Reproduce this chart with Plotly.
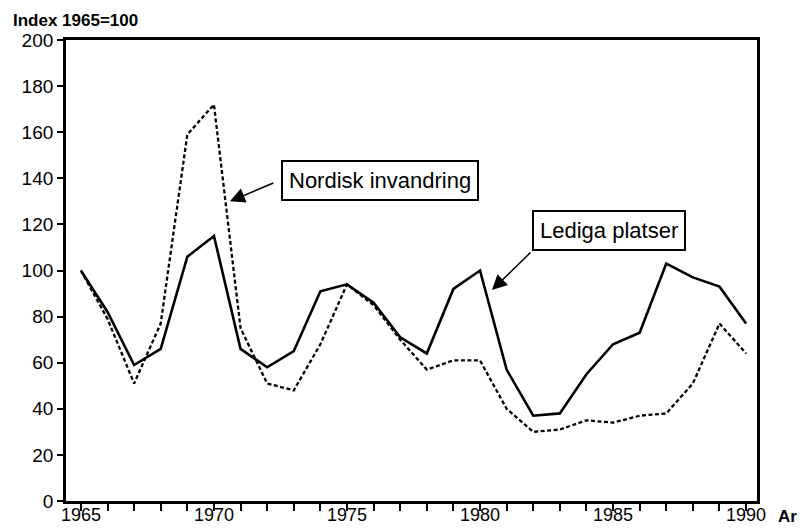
import plotly.graph_objects as go

years = list(range(1965, 1991))
lediga_platser = [100, 82, 59, 66, 106, 115, 66, 58, 65, 91, 94, 86, 71, 64, 92, 100,
                  57, 37, 38, 55, 68, 73, 103, 97, 93, 77]
nordisk_invandring = [100, 79, 51, 77, 159, 172, 75, 51, 48, 68, 94, 85, 70, 57, 61, 61,
                      40, 30, 31, 35, 34, 37, 38, 51, 77, 64]
x_tick_vals = [1965, 1970, 1975, 1980, 1985, 1990]
x_tick_text = ["1965", "1970", "1975", "1980", "1985", "1990"]
y_tick_vals = [0, 20, 40, 60, 80, 100, 120, 140, 160, 180, 200]

FONT = "Liberation Sans, Arial, Helvetica, sans-serif"

fig = go.Figure()
fig.add_trace(go.Scatter(x=years, y=nordisk_invandring, mode="lines",
                         line=dict(color="black", width=2.3, dash="4px,2.5px"),
                         name="Nordisk invandring"))
fig.add_trace(go.Scatter(x=years, y=lediga_platser, mode="lines",
                         line=dict(color="black", width=2.6),
                         name="Lediga platser"))

fig.update_layout(
    width=803, height=528,
    margin=dict(l=66, r=46, t=40, b=27),
    paper_bgcolor="white", plot_bgcolor="white",
    showlegend=False,
    font=dict(family=FONT, color="black", size=19),
)
fig.update_xaxes(range=[1964.44, 1990.41], tickvals=x_tick_vals,
                 showticklabels=False,
                 ticks="outside", ticklen=7, tickwidth=2, tickcolor="black",
                 minor=dict(dtick=1, ticks="outside", ticklen=7, tickwidth=2, tickcolor="black"),
                 showline=True, linecolor="black", linewidth=2.5, mirror=True,
                 showgrid=False, zeroline=False, automargin=False)
fig.update_yaxes(range=[0, 200], tickvals=y_tick_vals,
                 ticks="outside", ticklen=6, tickwidth=2, tickcolor="black",
                 showline=True, linecolor="black", linewidth=2.8, mirror=True,
                 showgrid=False, zeroline=False, automargin=False,
                 tickfont=dict(size=19, family=FONT))

# X tick labels placed close to the axis (as in the reference)
for v, t in zip(x_tick_vals, x_tick_text):
    fig.add_annotation(text=t, x=v, xref="x", y=0, yref="paper",
                       yanchor="top", xanchor="center", yshift=-2,
                       showarrow=False, font=dict(size=18, family=FONT))

# Title / axis labels
fig.add_annotation(text="<b>Index 1965=100</b>", xref="paper", yref="paper",
                   x=-55/692, y=1 + 20/461, xanchor="left", yanchor="middle",
                   showarrow=False, font=dict(size=17, family=FONT))
fig.add_annotation(text="<b>Ar</b>", xref="paper", yref="paper",
                   x=1 + 19/692, y=0, yshift=-4, xanchor="left", yanchor="top",
                   showarrow=False, font=dict(size=17, family=FONT))

# Label boxes
fig.add_annotation(text="Nordisk invandring", x=1970.6, y=130,
                   showarrow=False, xshift=150.5, yshift=20.7,
                   bordercolor="black", borderwidth=2, borderpad=6,
                   bgcolor="white", font=dict(size=22, family=FONT))
fig.add_annotation(text="", x=1970.6, y=130, ax=45, ay=-19,
                   showarrow=True, arrowhead=2, arrowsize=2, arrowwidth=1.5,
                   arrowcolor="black")
fig.add_annotation(text="Lediga platser", x=1980.45, y=91.5,
                   showarrow=False, xshift=117, yshift=59.5,
                   bordercolor="black", borderwidth=2, borderpad=6,
                   bgcolor="white", font=dict(size=22, family=FONT))
fig.add_annotation(text="", x=1980.45, y=91.5, ax=40, ay=-39,
                   showarrow=True, arrowhead=2, arrowsize=2, arrowwidth=1.5,
                   arrowcolor="black")

fig.write_html("out.html", config={"displayModeBar": False},
               post_script="document.body.style.margin='0';")
